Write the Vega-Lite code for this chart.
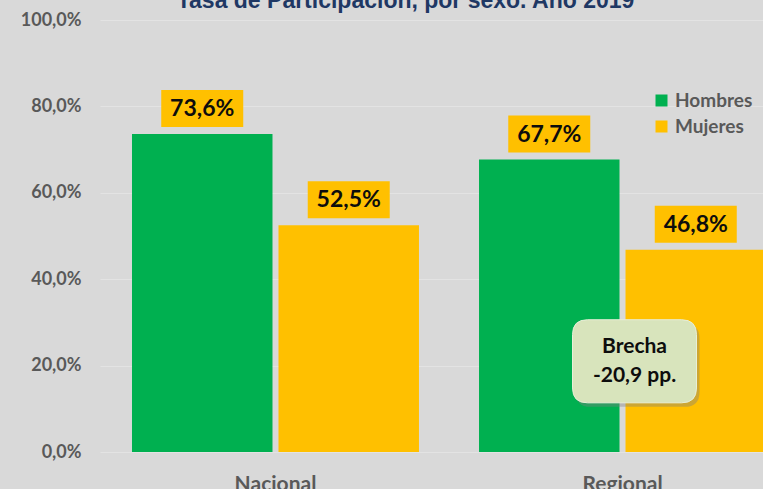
{
  "$schema": "https://vega.github.io/schema/vega-lite/v6.json",
  "width": 663,
  "height": 432,
  "autosize": "none",
  "padding": {"left": 100, "top": 20, "right": 0, "bottom": 37},
  "background": "#d9d9d9",
  "config": {
    "locale": {"number": {"decimal": ",", "thousands": ".", "grouping": [3], "currency": ["", " €"]}},
    "view": {"stroke": null},
    "font": "Lato"
  },
  "title": {
    "text": "Tasa de Participación,  por sexo. Año 2019",
    "font": "Liberation Sans",
    "fontSize": 23,
    "fontWeight": "bold",
    "color": "#1f3864",
    "anchor": "middle",
    "frame": "group",
    "dx": -26,
    "offset": -2
  },
  "datasets": {
    "bars": [
      {"region": "Nacional", "sexo": "Hombres", "tasa": 0.736},
      {"region": "Nacional", "sexo": "Mujeres", "tasa": 0.525},
      {"region": "Regional", "sexo": "Hombres", "tasa": 0.677},
      {"region": "Regional", "sexo": "Mujeres", "tasa": 0.468}
    ],
    "note": [
      {"region": "Regional", "tasa": 0.21, "texto": "Brecha\n-20,9 pp."}
    ]
  },
  "encoding": {
    "x": {
      "field": "region",
      "type": "nominal",
      "sort": ["Nacional", "Regional"],
      "scale": {"range": [0, 698], "paddingInner": 0.173, "paddingOuter": 0.0922},
      "axis": {
        "title": null,
        "labelAngle": 0,
        "labelFontSize": 21,
        "labelFontWeight": "bold",
        "labelColor": "#595959",
        "labelFont": "Lato",
        "labelPadding": 21,
        "ticks": false,
        "domain": false,
        "grid": false
      }
    }
  },
  "layer": [
    {
      "data": {"name": "bars"},
      "mark": {"type": "bar"},
      "encoding": {
        "y": {
          "field": "tasa",
          "type": "quantitative",
          "scale": {"domain": [0, 1]},
          "axis": {
            "title": null,
            "values": [0, 0.2, 0.4, 0.6, 0.8, 1],
            "format": ".1%",
            "labelFontSize": 18,
            "labelFontWeight": "bold",
            "labelColor": "#595959",
            "labelFont": "Lato",
            "labelPadding": 19,
            "ticks": false,
            "domain": false,
            "gridColor": "#e3e3e3",
            "gridWidth": 1
          }
        },
        "xOffset": {
          "field": "sexo",
          "type": "nominal",
          "scale": {"paddingInner": 0.041, "paddingOuter": 0}
        },
        "color": {
          "field": "sexo",
          "type": "nominal",
          "scale": {"domain": ["Hombres", "Mujeres"], "range": ["#00b050", "#ffc000"]},
          "legend": {
            "orient": "none",
            "legendX": 552,
            "legendY": 71,
            "title": null,
            "symbolType": "square",
            "symbolSize": 144,
            "symbolStrokeWidth": 0,
            "labelFontSize": 19,
            "labelFont": "Lato",
            "labelFontWeight": "bold",
            "labelColor": "#595959",
            "rowPadding": 6,
            "labelOffset": 4
          }
        }
      }
    },
    {
      "data": {"name": "bars"},
      "mark": {
        "type": "point",
        "shape": "M-1,-0.45H1V0.45H-1Z",
        "size": 6724,
        "filled": true,
        "fill": "#ffc000",
        "opacity": 1,
        "strokeWidth": 0,
        "yOffset": -25.5
      },
      "encoding": {
        "y": {"field": "tasa", "type": "quantitative"},
        "xOffset": {"field": "sexo", "type": "nominal"}
      }
    },
    {
      "data": {"name": "bars"},
      "mark": {
        "type": "text",
        "font": "Lato",
        "fontSize": 23,
        "fontWeight": "bold",
        "color": "#0d0d0d",
        "baseline": "middle",
        "align": "center",
        "yOffset": -25
      },
      "encoding": {
        "y": {"field": "tasa", "type": "quantitative"},
        "xOffset": {"field": "sexo", "type": "nominal"},
        "text": {"field": "tasa", "type": "quantitative", "format": ".1%"}
      }
    },
    {
      "data": {"name": "note"},
      "mark": {
        "type": "point",
        "shape": "M-0.76,-0.67H0.76Q1,-0.67 1,-0.43V0.43Q1,0.67 0.76,0.67H-0.76Q-1,0.67 -1,0.43V-0.43Q-1,-0.67 -0.76,-0.67Z",
        "size": 15376,
        "filled": true,
        "fill": "#7f7f7f",
        "opacity": 0.4,
        "strokeWidth": 0,
        "xOffset": 15,
        "yOffset": 4
      },
      "encoding": {
        "y": {"field": "tasa", "type": "quantitative"}
      }
    },
    {
      "data": {"name": "note"},
      "mark": {
        "type": "point",
        "shape": "M-0.76,-0.67H0.76Q1,-0.67 1,-0.43V0.43Q1,0.67 0.76,0.67H-0.76Q-1,0.67 -1,0.43V-0.43Q-1,-0.67 -0.76,-0.67Z",
        "size": 15376,
        "filled": true,
        "fill": "#d8e4bc",
        "opacity": 1,
        "stroke": "#e8efd8",
        "strokeWidth": 1,
        "xOffset": 12,
        "yOffset": 0
      },
      "encoding": {
        "y": {"field": "tasa", "type": "quantitative"}
      }
    },
    {
      "data": {"name": "note"},
      "mark": {
        "type": "text",
        "font": "Lato",
        "fontSize": 21,
        "fontWeight": "bold",
        "color": "#0d0d0d",
        "align": "center",
        "baseline": "middle",
        "lineBreak": "\n",
        "lineHeight": 29,
        "xOffset": 12,
        "yOffset": -14
      },
      "encoding": {
        "y": {"field": "tasa", "type": "quantitative"},
        "text": {"field": "texto", "type": "nominal"}
      }
    }
  ]
}
